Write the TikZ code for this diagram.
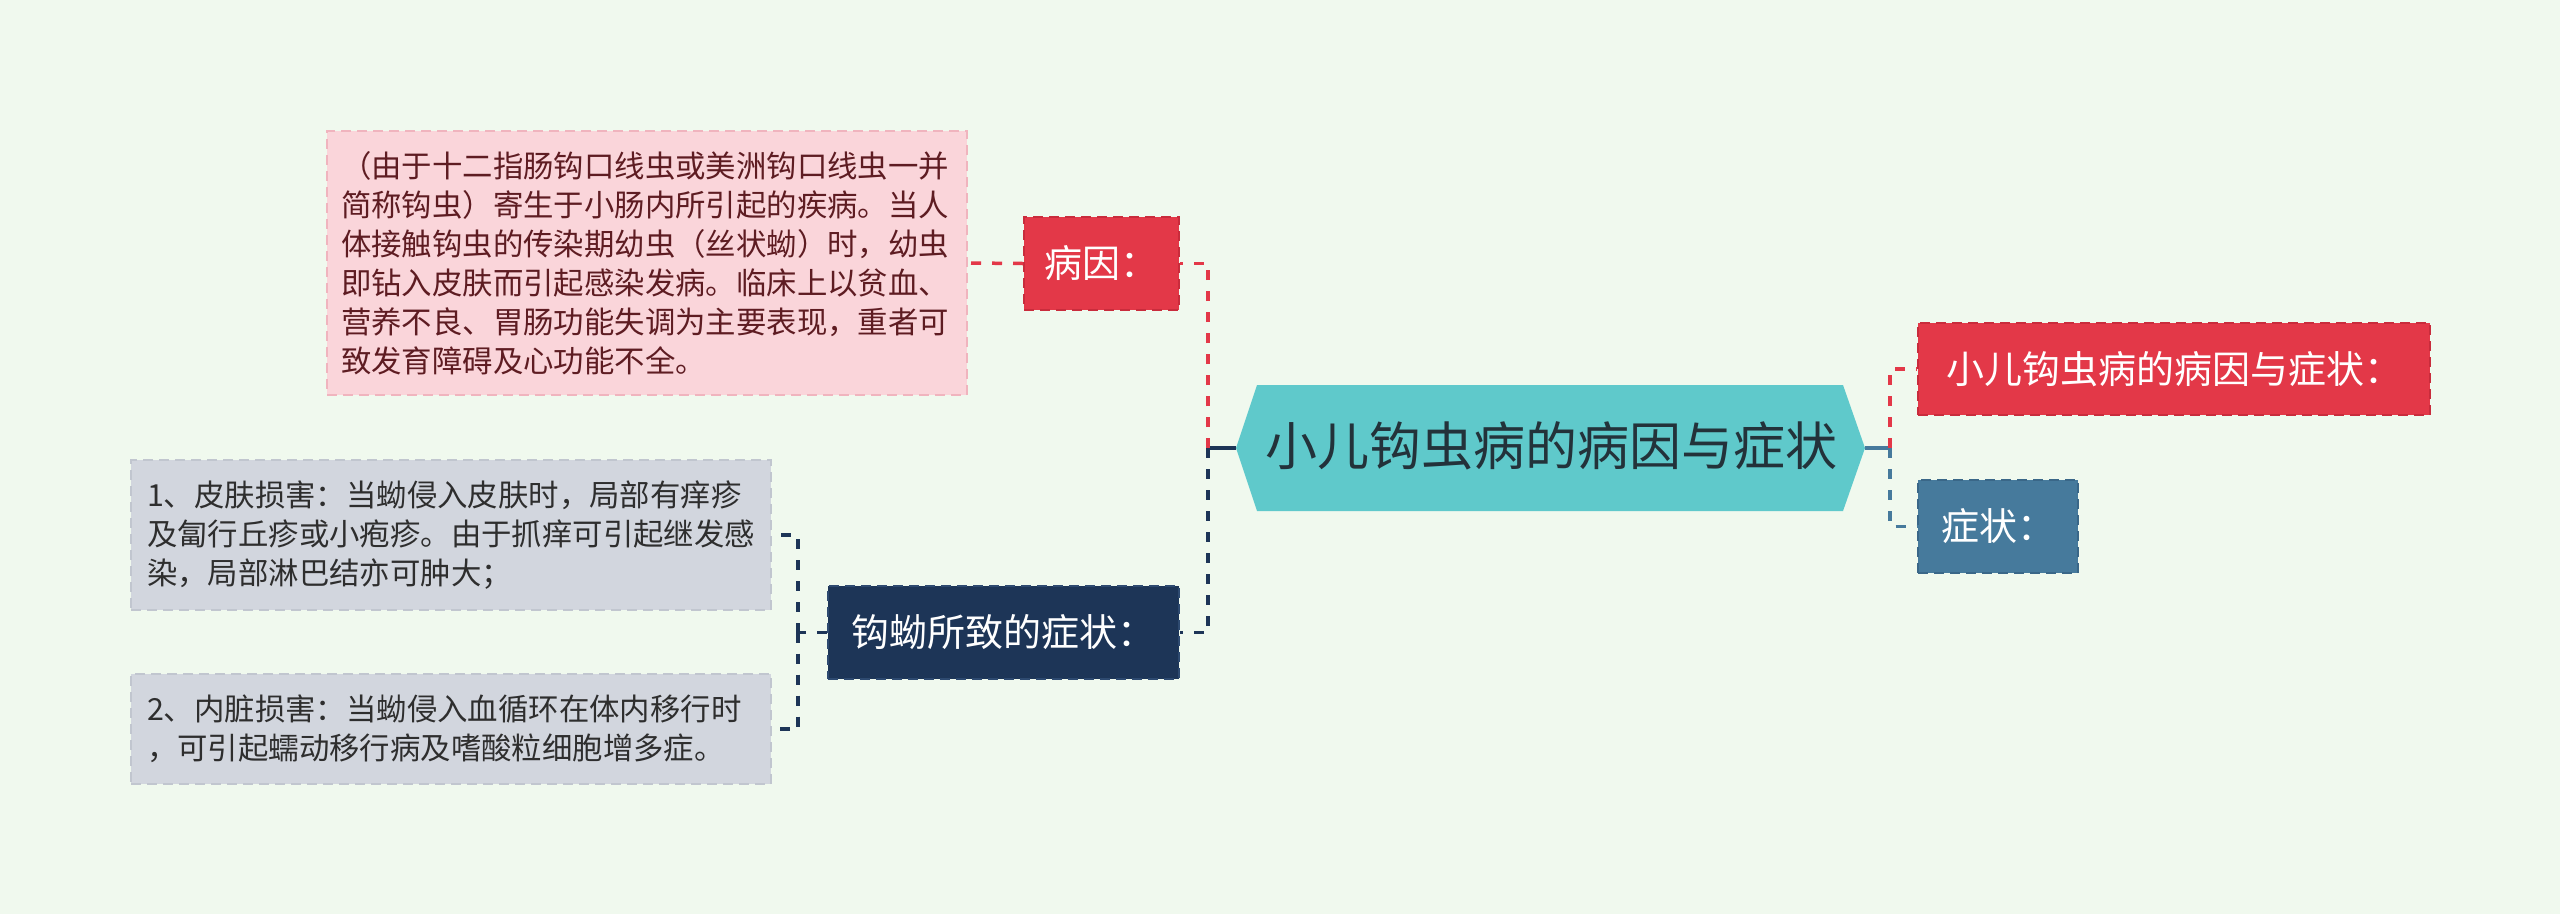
\documentclass[tikz,border=0pt]{standalone}
\usepackage{fontspec}
\setmainfont{Noto Sans CJK SC}
\definecolor{bgc}{HTML}{F0F9EE}
\definecolor{pinkf}{HTML}{FAD5DA}
\definecolor{pinkd}{HTML}{F0B4BE}
\definecolor{pinkt}{HTML}{5E1C22}
\definecolor{redf}{HTML}{E33848}
\definecolor{redd}{HTML}{C92C3C}
\definecolor{hexf}{HTML}{5FC9CB}
\definecolor{hext}{HTML}{23323A}
\definecolor{bluef}{HTML}{467A9C}
\definecolor{blued}{HTML}{3A6788}
\definecolor{navyf}{HTML}{1D3557}
\definecolor{navyd}{HTML}{2E4A70}
\definecolor{grayf}{HTML}{D2D6DE}
\definecolor{grayd}{HTML}{C1C6CF}
\definecolor{grayt}{HTML}{2E2E2E}
\tikzset{
  dashline/.style={line width=3.5pt, dash pattern=on 10pt off 11pt},
  solidline/.style={line width=4pt},
  boxbase/.style={rectangle, inner sep=0pt, line width=2pt, dash pattern=on 10pt off 6pt},
  textbox/.style={boxbase, align=left, font=\fontsize{30.4pt}{39pt}\selectfont},
  labelbox/.style={boxbase, text=white, font=\fontsize{38pt}{46pt}\selectfont},
  roottext/.style={inner sep=0pt, text=hext, font=\fontsize{52pt}{60pt}\selectfont}
}
\begin{document}
\begin{tikzpicture}[x=1pt,y=-1pt]
\fill[bgc] (0,0) rectangle (2560,914);
\useasboundingbox (0,0) rectangle (2560,914);
% root
\coordinate (rW) at (1236,448);
\coordinate (rE) at (1865,448);
\fill[hexf] (rW) -- (1257,385) -- (1843,385) -- (rE) -- (1843,511) -- (1257,511) -- cycle;
\node[roottext] (root) at (1551,446) {小儿钩虫病的病因与症状};
% left nodes
\node[textbox, fill=pinkf, draw=pinkd, text=pinkt, text width=612pt, minimum width=640pt, minimum height=264pt] (ctext) at (647,263) {（由于十二指肠钩口线虫或美洲钩口线虫一并\\简称钩虫）寄生于小肠内所引起的疾病。当人\\体接触钩虫的传染期幼虫（丝状蚴）时，幼虫\\即钻入皮肤而引起感染发病。临床上以贫血、\\营养不良、胃肠功能失调为主要表现，重者可\\致发育障碍及心功能不全。};
\node[labelbox, fill=redf, draw=redd, minimum width=155pt, minimum height=93pt] (cause) at (1101.5,263.5) {病因：};
\node[labelbox, fill=navyf, draw=navyd, minimum width=351pt, minimum height=93pt] (sympt) at (1003.5,632.5) {钩蚴所致的症状：};
\node[textbox, fill=grayf, draw=grayd, text=grayt, text width=608pt, minimum width=640pt, minimum height=150pt] (g1) at (451,535) {1、皮肤损害：当蚴侵入皮肤时，局部有痒疹\\及匐行丘疹或小疱疹。由于抓痒可引起继发感\\染，局部淋巴结亦可肿大；};
\node[textbox, fill=grayf, draw=grayd, text=grayt, text width=608pt, minimum width=640pt, minimum height=110pt] (g2) at (451,729) {2、内脏损害：当蚴侵入血循环在体内移行时\\，可引起蠕动移行病及嗜酸粒细胞增多症。};
% right nodes
\node[labelbox, fill=redf, draw=redd, minimum width=512pt, minimum height=92pt] (rt) at (2174,369) {小儿钩虫病的病因与症状：};
\node[labelbox, fill=bluef, draw=blued, minimum width=160pt, minimum height=93pt] (st) at (1998,526.5) {症状：};
% junctions
\coordinate (jL) at (1208,448);
\coordinate (jR) at (1890,448);
\coordinate (jS) at (798,632.5);
% connectors
\draw[solidline, navyf] (rW) -- (jL);
\draw[dashline, redf] (jL) |- (cause.east);
\draw[dashline, navyf] (jL) |- (sympt.east);
\draw[dashline, redf] (cause.west) -- (ctext.east);
\draw[dashline, navyf] (sympt.west) -- (jS);
\draw[dashline, navyf] (jS) |- (g1.east);
\draw[dashline, navyf] (jS) |- (g2.east);
\draw[solidline, bluef] (rE) -- (jR);
\draw[dashline, redf] (jR) |- (rt.west);
\draw[dashline, bluef] (jR) |- (st.west);
\end{tikzpicture}
\end{document}
